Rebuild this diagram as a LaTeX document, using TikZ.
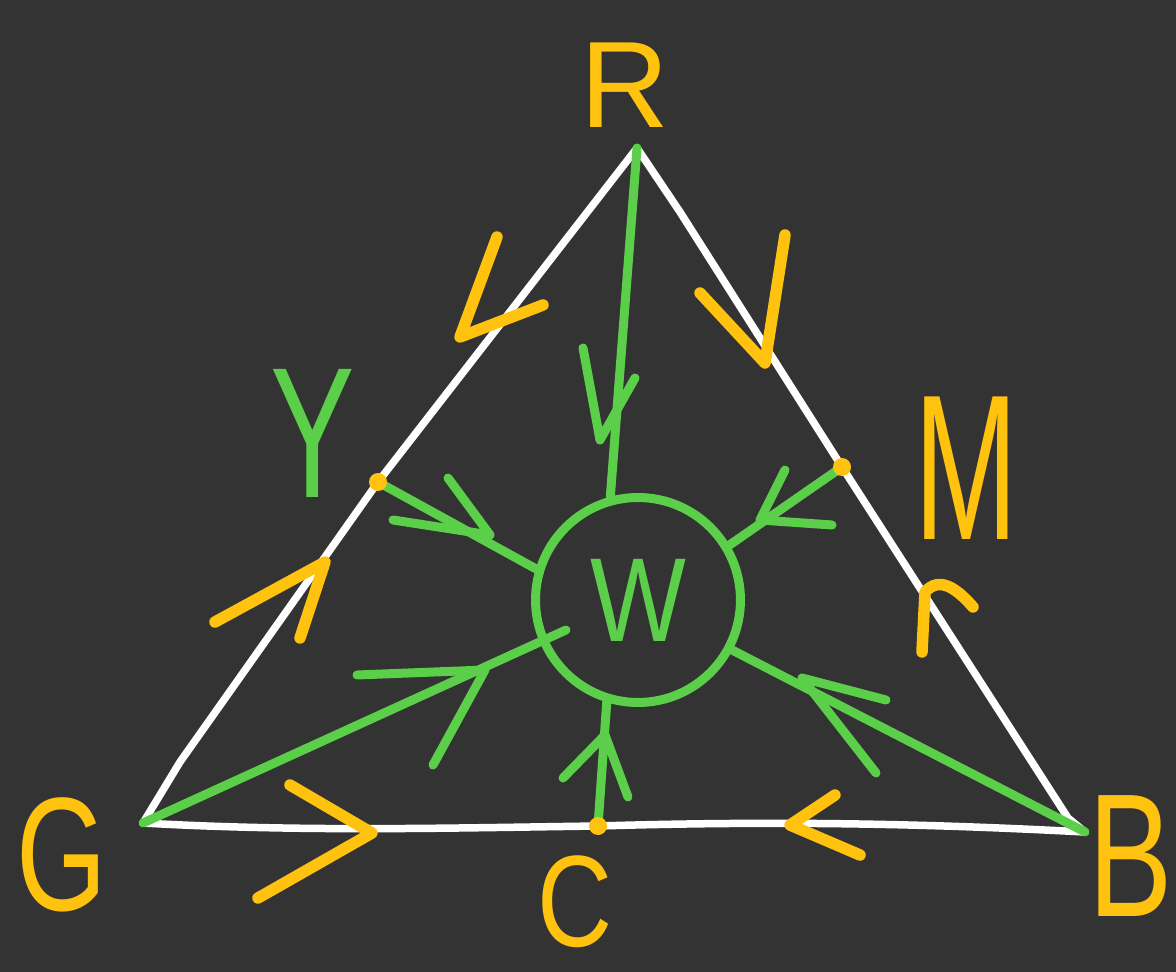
\documentclass[tikz,border=0pt]{standalone}
\usepackage{fontspec}
\setmainfont{Liberation Sans}
\definecolor{bg}{HTML}{333333}
\definecolor{yel}{HTML}{FFC20E}
\definecolor{grn}{HTML}{5CCF4A}
\tikzset{
  edgeline/.style={draw=white,line width=0.15cm,line cap=round,line join=round},
  gl/.style={draw=grn,line width=0.18cm,line cap=round,line join=round},
  yl/.style={draw=yel,line width=0.23cm,line cap=round,line join=round},
  lab/.style={text=yel,inner sep=0pt},
  dotmark/.style={fill=yel,draw=none},
}
\begin{document}
\begin{tikzpicture}[x=0.02cm,y=-0.02cm]
\fill[bg] (0,0) rectangle (1176,972);
\useasboundingbox (0,0) rectangle (1176,972);
% vertices and midpoints
\coordinate (R) at (637,148);
\coordinate (G) at (143,823);
\coordinate (B) at (1085,832);
\coordinate (Y) at (378,482);
\coordinate (M) at (842,467);
\coordinate (C) at (598,826);
% triangle
\draw[edgeline] (R) -- (Y) -- (180,762) -- (G) .. controls (300,832) and (450,828) .. (C) .. controls (800,820) and (950,825) .. (B) -- (1068,818) -- (M) -- (680,212) -- (R);
% circle W
\node[draw=grn,line width=0.18cm,circle,minimum size=4.1cm,text=grn,font=\fontsize{68}{68}\selectfont] (W) at (638,600) {\scalebox{0.85}[1]{W}};
\coordinate (Gend) at (566,630);
% green spokes
\draw[gl] (R) -- (W.105);
\draw[gl] (Y) -- (W.163);
\draw[gl] (M) -- (W.31);
\draw[gl] (G) -- (Gend);
\draw[gl] (B) -- (W.-28);
\draw[gl] (C) -- (W.-107);
% green arrowheads
\draw[gl] (583,348) -- (600,440) -- (635,378);
\draw[gl] (448,478) -- (490,535) -- (393,520);
\draw[gl] (785,470) -- (760,520) -- (832,525);
\draw[gl] (357,675) -- (485,670) -- (433,765);
\draw[gl] (886,700) -- (802,678) -- (876,773);
\draw[gl] (563,778) -- (605,735) -- (628,797);
% yellow dots
\fill[dotmark] (Y) circle[radius=9];
\fill[dotmark] (M) circle[radius=9];
\fill[dotmark] (C) circle[radius=9];
% yellow chevrons
\draw[yl] (497,237) -- (460,337) -- (543,305);
\draw[yl] (215,622) -- (325,562) -- (300,638);
\draw[yl] (700,293) -- (765,363) -- (785,235);
\draw[yl] (922,652) -- (925,592) .. controls (940,575) and (958,590) .. (973,607);
\draw[yl] (290,785) -- (372,833) -- (258,898);
\draw[yl] (835,795) -- (790,825) -- (860,855);
% labels
\node[lab,font=\fontsize{70}{70}\selectfont] (Rl) at (625,85) {R};
\node[lab,font=\fontsize{92}{92}\selectfont] (Gl) at (62,855) {\scalebox{0.72}[1]{G}};
\node[lab,font=\fontsize{100}{100}\selectfont] (Bl) at (1131,856) {\scalebox{0.72}[1]{B}};
\node[lab,font=\fontsize{74}{74}\selectfont] (Cl) at (575,902) {\scalebox{0.8}[1]{C}};
\node[lab,font=\fontsize{118}{118}\selectfont] (Ml) at (966,468) {\scalebox{0.6}[1]{M}};
\node[lab,text=grn,font=\fontsize{106}{106}\selectfont] (Yl) at (313,433) {\scalebox{0.68}[1]{Y}};
\end{tikzpicture}
\end{document}
